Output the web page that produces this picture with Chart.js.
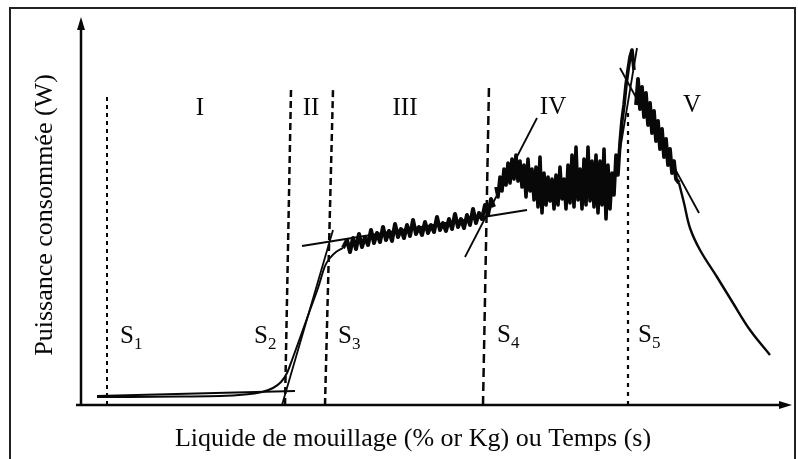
<!DOCTYPE html>
<html>
<head>
<meta charset="utf-8">
<script src="https://cdn.jsdelivr.net/npm/chart.js@4.4.1/dist/chart.umd.min.js"></script>
<style>
  html, body { margin: 0; padding: 0; background: #fff; }
  #wrap { width: 798px; height: 459px; position: relative; }
</style>
</head>
<body>
<div id="wrap"><canvas id="chart"></canvas></div>
<script>
// Units: time (s) on x, power (W) on y
const X_MAX = 707;
const Y_MAX = 385;

// smooth start: phase I and the steep rise of phase II
const riseTime  = [14, 47, 97, 137, 162, 179, 190, 198, 204, 209, 217, 227, 235, 242, 247, 253, 260];
const risePower = [8, 8, 8.5, 9, 10.5, 13, 17, 23, 32, 45, 67, 95, 117, 139, 147, 153, 157];

// noisy plateau (phase III)
const plateauTime = [260, 264, 267, 270, 273, 276, 279, 282, 285, 288, 291, 294, 297, 300, 303, 306, 309, 312, 315, 318,
  321, 324, 327, 330, 333, 336, 339, 342, 345, 348, 351, 354, 357, 360, 363, 366, 369, 372, 375, 378,
  381, 384, 387, 390, 393, 396, 399, 402, 405, 408, 411];
const plateauPower = [157, 165, 153, 167, 156, 171, 158, 168, 160, 175, 162, 172, 163, 178, 165, 174, 164, 181, 168, 176,
  167, 180, 169, 185, 171, 178, 170, 183, 172, 180, 173, 188, 175, 182, 174, 186, 176, 191, 178, 186,
  177, 190, 180, 196, 182, 192, 186, 200, 190, 206, 198];

// noisy bump (phase IV) up to the peak
const bumpTime = [413, 415, 417, 419, 421, 423, 425, 427, 429, 431, 433, 435, 437, 439, 441, 443, 445, 447, 449, 451,
  453, 455, 457, 459, 461, 463, 465, 467, 469, 471, 473, 475, 477, 479, 481, 483, 485, 487, 489, 491,
  493, 495, 497, 499, 501, 503, 505, 507, 509, 511, 513, 515, 517, 519, 521, 523, 525, 527, 529, 531,
  533, 535, 537, 539, 541, 543, 545, 547, 549, 551];
const bumpPower = [218, 208, 228, 214, 236, 220, 242, 222, 246, 226, 250, 224, 244, 218, 240, 208, 246, 214, 236, 205,
  238, 198, 248, 192, 232, 200, 228, 204, 226, 196, 230, 200, 238, 206, 226, 196, 240, 202, 250, 198,
  258, 205, 236, 196, 246, 200, 258, 204, 244, 198, 250, 192, 244, 200, 256, 186, 240, 196, 232, 210,
  250, 230, 262, 285, 300, 320, 335, 348, 355, 335];

// noisy fall after the peak (start of phase V)
const fallTime  = [553, 555, 557, 559, 561, 563, 565, 567, 569, 571, 573, 575, 577, 579, 581, 583, 585, 587, 589, 591, 593, 596];
const fallPower = [300, 326, 296, 318, 288, 312, 280, 302, 272, 294, 264, 284, 256, 276, 248, 266, 240, 256, 232, 244, 226, 222];

// smooth decay of phase V
const tailTime  = [596, 601, 607, 617, 634, 650, 667, 687];
const tailPower = [222, 202, 177, 155, 128, 102, 75, 50];

// tangent segments [x1, x2] / [y1, y2]
const tangentTime  = [[14, 212], [199, 250], [219, 444], [382, 454], [537, 554], [537, 616]];
const tangentPower = [[9, 14], [0, 175], [159, 195], [148, 287], [255, 357], [337, 192]];

// stage boundaries S1..S5
const boundarySub     = ['1', '2', '3', '4', '5'];
const boundaryTopX    = [24, 208, 250, 406, 545];
const boundaryBottomX = [24, 202, 242, 400, 545];
const boundaryTop     = [312, 315, 315, 320, 295];
const boundaryLabelX  = [37, 171, 255, 414, 555];
const boundaryLabelY  = [62, 62, 62, 63, 63];

// stage names
const stageNames  = ['I', 'II', 'III', 'IV', 'V'];
const stageLabelX = [117, 228, 322, 470, 609];
const stageLabelY = [297, 297, 297, 298, 300];

const yTitle = 'Puissance consommée (W)';
const xTitle = 'Liquide de mouillage (% or Kg) ou Temps (s)';

const SERIF = "'Liberation Serif', 'Times New Roman', serif";
const INK = '#080808';

function toPoints(xs, ys) {
  return xs.map((x, i) => ({ x, y: ys[i] }));
}

const dashStyles = [[4, 4], [7, 4], [7, 4], [9, 5], [4, 5]];
const dashWidths = [2, 2.5, 2.5, 2.5, 2.2];

const datasets = [];

boundaryTopX.forEach((x, i) => {
  datasets.push({
    data: [{ x: boundaryBottomX[i], y: 0 }, { x, y: boundaryTop[i] }],
    borderColor: INK,
    borderWidth: dashWidths[i],
    borderDash: dashStyles[i],
    pointRadius: 0
  });
});

tangentTime.forEach((xs, i) => {
  datasets.push({
    data: toPoints(xs, tangentPower[i]),
    borderColor: INK,
    borderWidth: 1.8,
    pointRadius: 0
  });
});

datasets.push({
  data: toPoints(riseTime, risePower),
  borderColor: INK,
  borderWidth: 2,
  tension: 0.3,
  pointRadius: 0
});
// the three noisy stretches
[[plateauTime, plateauPower, 4], [bumpTime, bumpPower, 3.6], [fallTime, fallPower, 3.8]].forEach(([xs, ys, w]) => {
  datasets.push({
    data: toPoints(xs, ys),
    borderColor: INK,
    borderWidth: w,
    borderJoinStyle: 'round',
    tension: 0,
    pointRadius: 0
  });
});
datasets.push({
  data: toPoints(tailTime, tailPower),
  borderColor: INK,
  borderWidth: 2.4,
  tension: 0.35,
  pointRadius: 0
});

const decorPlugin = {
  id: 'decor',
  afterDatasetsDraw(chart) {
    const ctx = chart.ctx;
    const xs = chart.scales.x;
    const ys = chart.scales.y;
    const left = xs.getPixelForValue(0) - 2;
    const bottom = ys.getPixelForValue(0);
    ctx.save();

    // outer frame
    ctx.strokeStyle = '#222';
    ctx.lineWidth = 2;
    ctx.strokeRect(10, 8, 785, 470);

    // axes with arrows
    ctx.strokeStyle = INK;
    ctx.fillStyle = INK;
    ctx.lineWidth = 2.5;
    ctx.beginPath();
    ctx.moveTo(left, bottom);
    ctx.lineTo(left, 26);
    ctx.moveTo(left - 5, bottom);
    ctx.lineTo(782, bottom);
    ctx.stroke();
    ctx.beginPath();
    ctx.moveTo(left, 17);
    ctx.lineTo(left - 4, 30);
    ctx.lineTo(left + 4, 30);
    ctx.closePath();
    ctx.fill();
    ctx.beginPath();
    ctx.moveTo(792, bottom);
    ctx.lineTo(779, bottom - 4);
    ctx.lineTo(779, bottom + 4);
    ctx.closePath();
    ctx.fill();

    // stage names
    ctx.font = '25px ' + SERIF;
    ctx.textAlign = 'center';
    ctx.textBaseline = 'middle';
    stageNames.forEach((name, i) => {
      ctx.fillText(name, xs.getPixelForValue(stageLabelX[i]), ys.getPixelForValue(stageLabelY[i]));
    });

    // S labels with subscripts
    ctx.textAlign = 'left';
    ctx.textBaseline = 'alphabetic';
    boundarySub.forEach((sub, i) => {
      const px = xs.getPixelForValue(boundaryLabelX[i]);
      const py = ys.getPixelForValue(boundaryLabelY[i]);
      ctx.font = '25px ' + SERIF;
      ctx.fillText('S', px, py);
      const w = ctx.measureText('S').width;
      ctx.font = '17px ' + SERIF;
      ctx.fillText(sub, px + w, py + 6);
    });

    // axis titles
    ctx.font = '26px ' + SERIF;
    ctx.textAlign = 'center';
    ctx.fillText(xTitle, 413, 446);
    ctx.save();
    ctx.translate(52, 215);
    ctx.rotate(-Math.PI / 2);
    ctx.fillText(yTitle, 0, 0);
    ctx.restore();

    ctx.restore();
  }
};

new Chart(document.getElementById('chart'), {
  type: 'line',
  data: { datasets },
  options: {
    responsive: true,
    maintainAspectRatio: false,
    animation: false,
    layout: { padding: { left: 83, right: 8, top: 20, bottom: 54 } },
    plugins: { legend: { display: false }, tooltip: { enabled: false } },
    elements: { line: { borderCapStyle: 'butt' } },
    datasets: { line: { clip: false } },
    scales: {
      x: { type: 'linear', min: 0, max: X_MAX, display: false },
      y: { type: 'linear', min: 0, max: Y_MAX, display: false }
    }
  },
  plugins: [decorPlugin]
});
</script>
</body>
</html>
